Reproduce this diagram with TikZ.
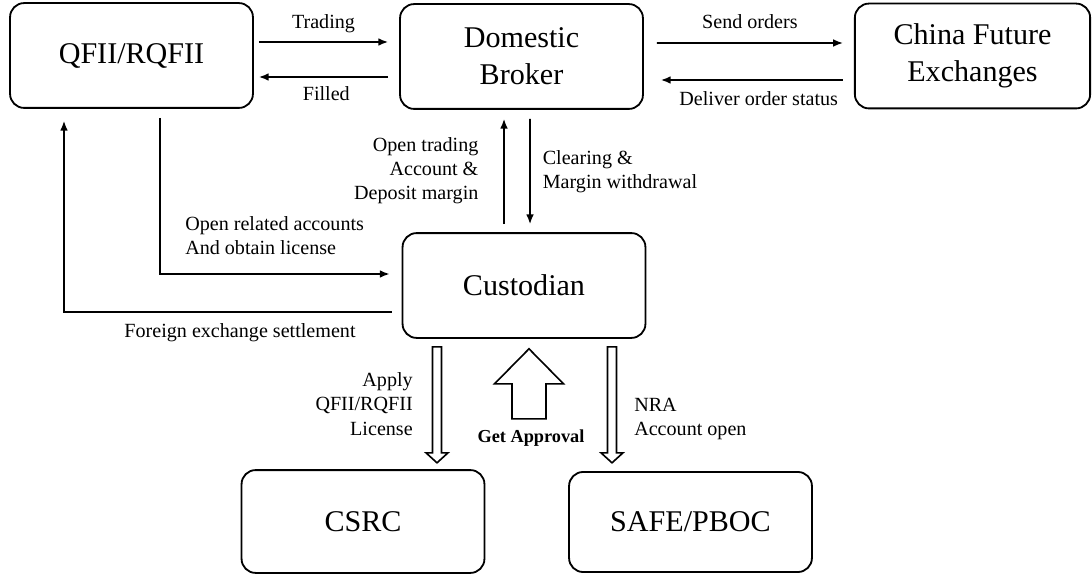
\documentclass[tikz,border=0pt]{standalone}
\usepackage{fontspec}
\setmainfont{Liberation Serif}
\usetikzlibrary{arrows.meta,calc}

\begin{document}
\begin{tikzpicture}[>={Latex[length=7pt,width=5.5pt]},x=0.025cm,y=0.025cm,
    party/.style={draw,line width=1.3pt,rounded corners=10pt,
      minimum width=6.07cm,minimum height=2.62cm,inner sep=0pt,align=center,
      font=\fontsize{21.4}{26.5}\selectfont},
    flow/.style={->,line width=1.15pt},
    lbl/.style={inner sep=0pt,font=\fontsize{14.3}{17.4}\selectfont},
    hollow/.style={draw,line width=1.15pt,fill=white,line join=miter}]

  \useasboundingbox (0,0) rectangle (1092,574);

  % --- parties ---
  \node[party] (qfii) at (131.5,518.5) {QFII/RQFII};
  \node[party] (dom)  at (521.5,517.5) {Domestic\\Broker};
  \node[party,minimum width=5.88cm] (cfe) at (972.5,518) {China Future\\Exchanges};
  \node[party] (cust) at (524,288.5) {Custodian};
  \node[party,minimum height=2.57cm] (csrc) at (363,52.5) {CSRC};
  \node[party,minimum height=2.5cm]  (safe) at (690.5,52) {SAFE/PBOC};

  % --- top row ---
  \draw[flow] ($(qfii.east)+(5,13.5)$) -- ($(dom.west)+(-11,14.5)$)
        node[lbl,midway,above=0.2cm] (trading) {Trading};
  \draw[flow] ($(dom.west)+(-11,-20.5)$) -- ($(qfii.east)+(5,-21.5)$)
        node[lbl,midway,below=0.22cm,xshift=0.07cm] (filled) {Filled};
  \draw[flow] ($(dom.east)+(13,13.5)$) -- ($(cfe.west)+(-11,13)$)
        node[lbl,midway,above=0.33cm] (sendord) {Send orders};
  \draw[flow] ($(cfe.west)+(-11,-24)$) -- ($(dom.east)+(17,-23.5)$)
        node[lbl,midway,below=0.27cm,xshift=0.17cm] (deliver) {Deliver order status};

  % --- broker <-> custodian ---
  \draw[flow] ($(cust.north)+(-20,8)$) -- ($(dom.south)+(-17.5,-9)$)
        node[lbl,midway,left=0.62cm,align=right,yshift=0.02cm] (opentrd)
        {Open trading\\Account \&\\Deposit margin};
  \draw[flow] ($(dom.south)+(8.5,-9)$) -- ($(cust.north)+(6,8)$)
        node[lbl,midway,right=0.3cm,align=left] (clearing)
        {Clearing \&\\Margin withdrawal};

  % --- qfii <-> custodian ---
  \draw[flow] ($(qfii.south)+(28.5,-9)$) |- ($(cust.west)+(-12,11.5)$);
  \node[lbl,align=left,anchor=west] (openacc) at (185,338.5)
        {Open related accounts\\And obtain license};
  \draw[flow] ($(cust.west)+(-10,-26.5)$) -| ($(qfii.south)+(-67.5,-12)$);
  \node[lbl] (fxsettle) at (240,241) {Foreign exchange settlement};

  % --- regulators ---
  \foreach \dx in {-87,88}
    \draw[hollow] ($(cust.south)+(\dx,-8)$) ++(-4.5,0) -- ++(9,0)
      -- ++(0,-106) -- ++(6.5,0) -- ++(-11,-10) -- ++(-11,10)
      -- ++(6.5,0) -- cycle;
  \draw[hollow] ($(cust.south)+(5,-80)$) ++(-17,0) -- ++(34,0)
    -- ++(0,35) -- ++(17.5,0) -- ++(-34.5,35) -- ++(-34.5,-35)
    -- ++(17.5,0) -- cycle;

  \node[lbl,align=right,anchor=east] (apply) at (413,170)
        {Apply\\QFII/RQFII\\License};
  \node[lbl,align=left,anchor=west] (nra) at (634,155)
        {NRA\\Account open};
  \node[lbl,font=\fontsize{13}{15}\selectfont\bfseries] (approval) at (531,136)
        {Get Approval};

\end{tikzpicture}
\end{document}
